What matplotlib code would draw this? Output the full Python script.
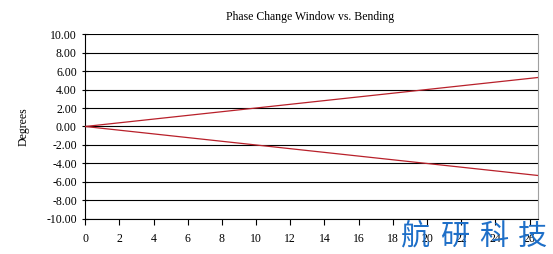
import numpy as np
import matplotlib
matplotlib.use('Agg')
import matplotlib.pyplot as plt

# bending (x) and phase change window limits (degrees)
bending = [0, 1, 2, 3, 4, 5, 6, 7, 8, 9, 10, 11, 12, 13, 14, 15, 16, 17, 18, 19, 20,
           21, 22, 23, 24, 25, 26, 26.5]
upper = [0.0, 0.2, 0.4, 0.6, 0.8, 1.0, 1.2, 1.4, 1.6, 1.8, 2.0, 2.2, 2.4, 2.6, 2.8, 3.0,
         3.2, 3.4, 3.6, 3.8, 4.0, 4.2, 4.4, 4.6, 4.8, 5.0, 5.2, 5.3]
lower = [0.0, -0.2, -0.4, -0.6, -0.8, -1.0, -1.2, -1.4, -1.6, -1.8, -2.0, -2.2, -2.4, -2.6,
         -2.8, -3.0, -3.2, -3.4, -3.6, -3.8, -4.0, -4.2, -4.4, -4.6, -4.8, -5.0, -5.2, -5.3]
yticks = np.arange(-10, 10.01, 2)
xticks = np.arange(0, 27, 2)
watermark = ['航', '研', '科', '技']

serif = 'Liberation Serif'
fig = plt.figure(figsize=(5.53, 2.54), dpi=100)
ax = fig.add_axes([0.154, 0.138, 0.819, 0.728])

for y in yticks:
    ax.axhline(y, color='black', lw=0.8, zorder=1)

ax.plot(bending, upper, color='#b8202a', lw=0.9, zorder=3)
ax.plot(bending, lower, color='#b8202a', lw=0.9, zorder=3)

ax.set_xlim(0, 26.5)
ax.set_ylim(-10, 10)
ax.set_yticks(yticks)
ax.set_yticklabels(['%.2f' % v for v in yticks], family=serif, fontsize=8.5)
ax.set_xticks(xticks)
ax.set_xticklabels([str(v) for v in xticks], family=serif, fontsize=8.5)
ax.tick_params(axis='y', direction='inout', length=5, width=0.8)
ax.tick_params(axis='x', direction='out', length=4, width=0.8, pad=6)

ax.spines['top'].set_visible(False)
ax.spines['right'].set_color('#a0a0a0')
ax.spines['left'].set_linewidth(0.8)
ax.spines['bottom'].set_linewidth(0.8)

ax.set_ylabel('Degrees', family=serif, fontsize=8.5, labelpad=12)
fig.text(0.56, 0.935, 'Phase Change Window vs. Bending', family=serif,
         fontsize=8.5, ha='center', va='center')

# watermark, one glyph at a time for the wide spacing
for i, ch in enumerate(watermark):
    fig.text(0.752 + i * 0.0705, 0.067, ch, family=['Noto Sans CJK SC', 'DejaVu Sans'],
             fontsize=21, color='#1e6fc8', ha='center', va='center')

fig.savefig('out.png', dpi=100)
